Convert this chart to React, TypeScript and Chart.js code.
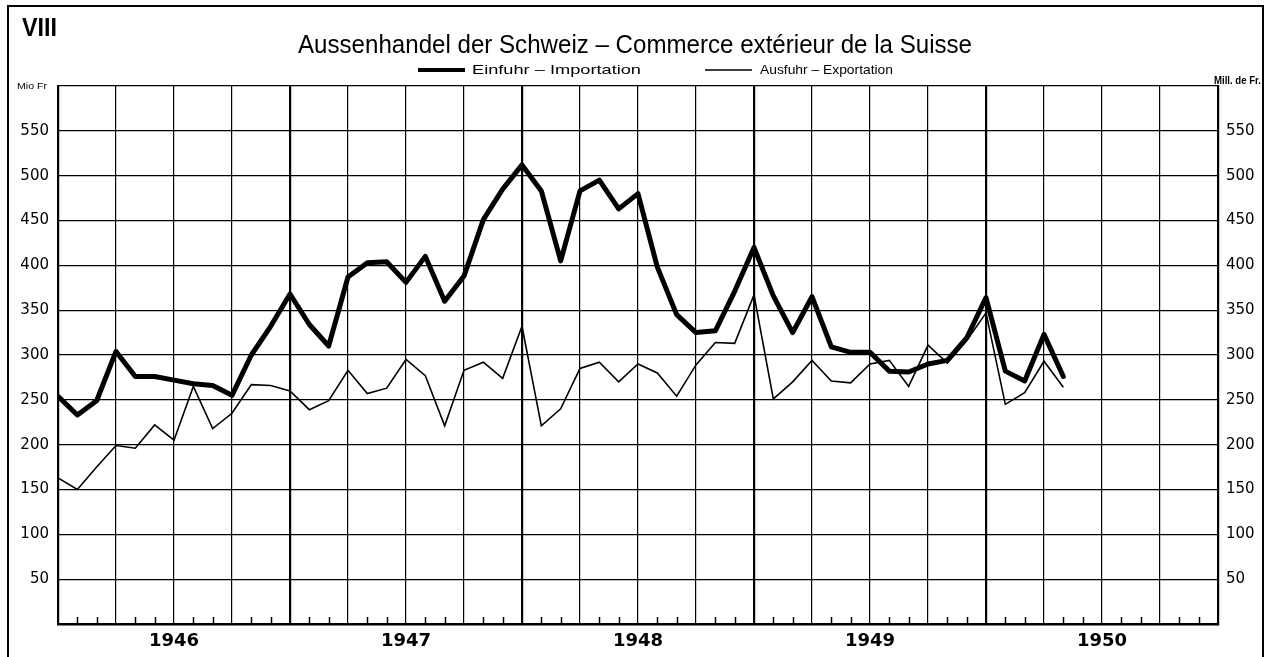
import React, { useEffect, useRef } from "react";
import { Chart, registerables } from "chart.js";

Chart.register(...registerables);

// ---- Data ----
const yearLabels = ["1946", "1947", "1948", "1949", "1950"];

// Monthly values, Jan 1946 .. May 1950 (Mio Fr)
const importValues = [
  254, 233, 249, 304, 276, 276, 272, 268, 266, 255, 300, 332,
  368, 334, 310, 387, 403, 404, 381, 410, 360, 388, 451, 485,
  512, 483, 405, 483, 495, 463, 480, 398, 345, 325, 327, 371,
  420, 366, 325, 365, 309, 303, 303, 282, 281, 290, 294, 319,
  364, 282, 271, 323, 276,
];
const exportValues = [
  163, 150, 175, 199, 196, 222, 205, 265, 218, 235, 267, 266,
  260, 239, 249, 283, 257, 263, 295, 277, 221, 283, 292, 274,
  332, 221, 240, 285, 292, 270, 290, 280, 254, 289, 314, 313,
  367, 251, 270, 294, 271, 269, 290, 294, 265, 311, 291, 316,
  347, 245, 258, 293, 264,
];

const chartTitle = "Aussenhandel der Schweiz – Commerce extérieur de la Suisse";
const importLabel = "Einfuhr – Importation";
const exportLabel = "Ausfuhr – Exportation";
const plateNumber = "VIII";
const unitLeft = "Mio Fr";
const unitRight = "Mill. de Fr.";

const Y_MIN = 0;
const Y_MAX = 600;
const Y_STEP = 50;
const MONTHS = yearLabels.length * 12;

function drawFit(
  ctx: CanvasRenderingContext2D,
  text: string,
  x: number,
  y: number,
  width: number,
  font: string
) {
  ctx.save();
  ctx.font = font;
  const w = ctx.measureText(text).width;
  const s = width / w;
  ctx.translate(x, y);
  ctx.scale(s, 1);
  ctx.textAlign = "left";
  ctx.textBaseline = "alphabetic";
  ctx.fillStyle = "#000";
  ctx.fillText(text, 0, 0);
  ctx.restore();
}

const decorPlugin = {
  id: "decor",
  beforeDraw(chart: any) {
    const ctx: CanvasRenderingContext2D = chart.ctx;
    ctx.save();
    ctx.fillStyle = "#fff";
    ctx.fillRect(0, 0, chart.width, chart.height);
    // outer frame
    ctx.strokeStyle = "#000";
    ctx.lineWidth = 2;
    ctx.beginPath();
    ctx.moveTo(8, 657);
    ctx.lineTo(8, 6);
    ctx.lineTo(1263, 6);
    ctx.lineTo(1263, 657);
    ctx.stroke();
    ctx.restore();

    drawFit(ctx, plateNumber, 22, 36, 35, "bold 25px 'Liberation Sans', Arial, sans-serif");
    drawFit(ctx, chartTitle, 298, 53, 674, "26px 'Liberation Sans', Arial, sans-serif");
    drawFit(ctx, unitLeft, 17, 89, 30, "9px 'Liberation Sans', Arial, sans-serif");
    drawFit(ctx, unitRight, 1214, 84, 47, "bold 10px 'Liberation Sans', Arial, sans-serif");

    // legend
    ctx.save();
    ctx.strokeStyle = "#000";
    ctx.lineWidth = 4;
    ctx.beginPath();
    ctx.moveTo(418, 70);
    ctx.lineTo(465, 70);
    ctx.stroke();
    ctx.lineWidth = 1.6;
    ctx.beginPath();
    ctx.moveTo(705, 70);
    ctx.lineTo(752, 70);
    ctx.stroke();
    ctx.restore();
    drawFit(ctx, importLabel, 472, 74, 169, "13px 'Liberation Sans', Arial, sans-serif");
    drawFit(ctx, exportLabel, 760, 74, 133, "13px 'Liberation Sans', Arial, sans-serif");
  },
  afterDatasetsDraw(chart: any) {
    const ctx: CanvasRenderingContext2D = chart.ctx;
    const xs = chart.scales.x;
    const bottom = chart.chartArea.bottom;
    ctx.save();
    ctx.strokeStyle = "#000";
    ctx.lineWidth = 1.5;
    ctx.beginPath();
    for (let m = 0; m <= MONTHS; m++) {
      if (m % 3 === 0) continue;
      const x = Math.round(xs.getPixelForValue(m)) + 0.5;
      ctx.moveTo(x, bottom);
      ctx.lineTo(x, bottom - 7);
    }
    ctx.stroke();
    ctx.restore();
  },
};

export default function App() {
  const ref = useRef<HTMLCanvasElement | null>(null);

  useEffect(() => {
    if (!ref.current) return;
    const toPoints = (vals: number[]) => vals.map((v, i) => ({ x: i, y: v }));
    const tickFont = { family: "'DejaVu Sans', sans-serif", size: 15 };
    const yTickCb = (v: any) => (v === Y_MIN || v === Y_MAX ? "" : String(v));

    const chart = new Chart(ref.current, {
      type: "line",
      data: {
        datasets: [
          {
            label: importLabel,
            data: toPoints(importValues),
            borderColor: "#000",
            borderWidth: 5,
            pointRadius: 0,
            tension: 0,
            borderJoinStyle: "round",
            borderCapStyle: "round",
            fill: false,
          },
          {
            label: exportLabel,
            data: toPoints(exportValues),
            borderColor: "#000",
            borderWidth: 1.6,
            pointRadius: 0,
            tension: 0,
            fill: false,
          },
        ],
      },
      options: {
        animation: false,
        responsive: false,
        devicePixelRatio: 1,
        layout: { padding: { top: 86, left: 0, right: 0, bottom: 0 } },
        plugins: {
          legend: { display: false },
          title: { display: false },
          tooltip: { enabled: false },
        },
        scales: {
          x: {
            type: "linear",
            min: 0,
            max: MONTHS,
            afterFit(s: any) {
              s.height = 33;
            },
            afterBuildTicks(s: any) {
              const t = [];
              for (let v = 0; v <= MONTHS; v += 3) t.push({ value: v });
              s.ticks = t;
            },
            ticks: {
              autoSkip: false,
              maxRotation: 0,
              padding: 7,
              color: "#000",
              font: { family: "'DejaVu Sans', sans-serif", size: 18, weight: "bold" },
              callback: (v: any) => (v % 12 === 6 ? yearLabels[(v - 6) / 12] : ""),
            },
            grid: {
              color: "#000",
              drawTicks: false,
              lineWidth: (c: any) => (c.tick && c.tick.value % 12 === 0 ? 2.2 : 1.2),
            },
            border: { color: "#000", width: 2.5 },
          },
          y: {
            position: "left",
            min: Y_MIN,
            max: Y_MAX,
            afterFit(s: any) {
              s.width = 58;
            },
            ticks: { stepSize: Y_STEP, padding: 9, color: "#000", font: tickFont, callback: yTickCb },
            grid: { color: "#000", lineWidth: 1.2, drawTicks: false },
            border: { color: "#000", width: 2 },
          },
          y2: {
            position: "right",
            min: Y_MIN,
            max: Y_MAX,
            afterFit(s: any) {
              s.width = 52;
            },
            ticks: { stepSize: Y_STEP, padding: 8, color: "#000", font: tickFont, callback: yTickCb },
            grid: { display: false, drawTicks: false },
            border: { color: "#000", width: 2 },
          },
        },
      } as any,
      plugins: [decorPlugin],
    });
    return () => chart.destroy();
  }, []);

  return (
    <div style={{ position: "fixed", left: 0, top: 0, width: 1270, height: 657, background: "#fff" }}>
      <canvas ref={ref} width={1270} height={657} style={{ display: "block" }} />
    </div>
  );
}
